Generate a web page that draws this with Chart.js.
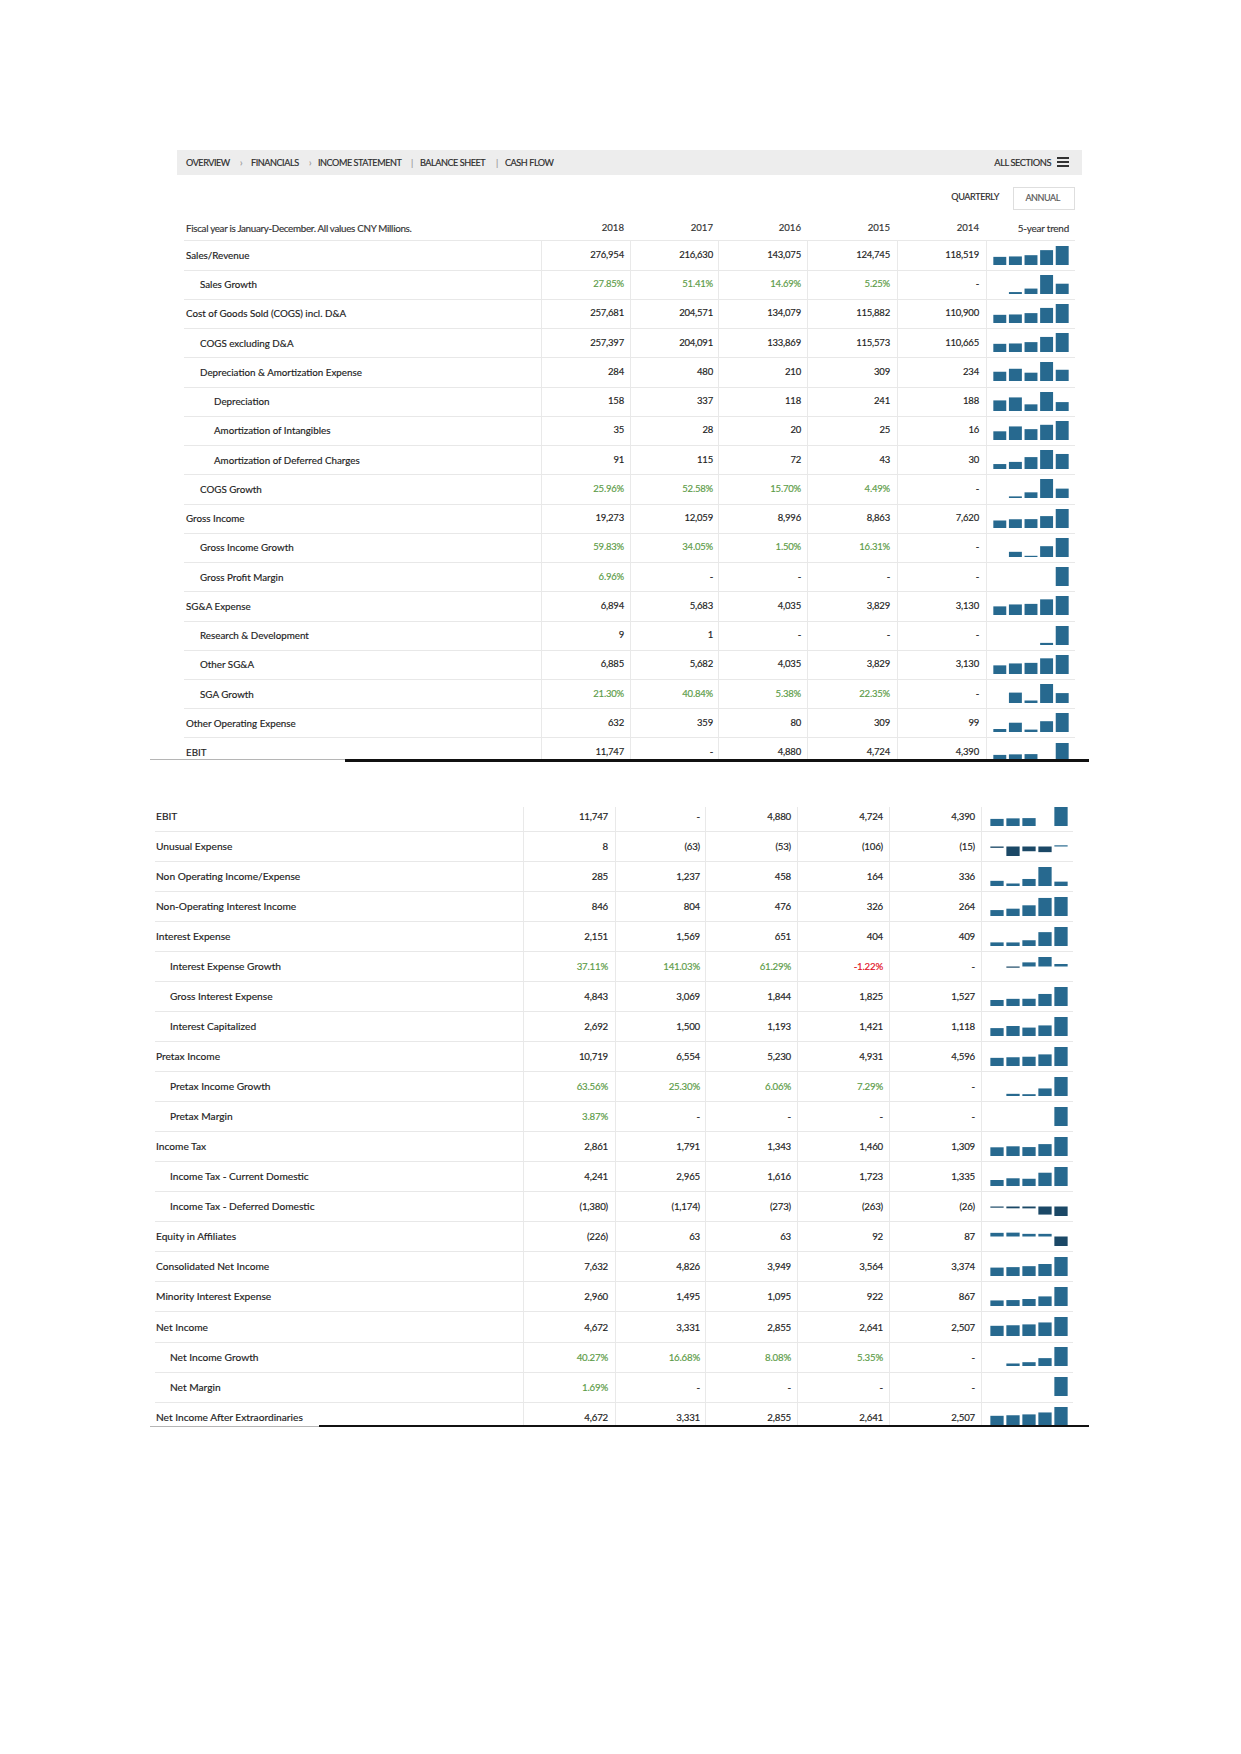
<!DOCTYPE html>
<html>
<head>
    <title>Income Statement</title>
    <script src="https://cdn.jsdelivr.net/npm/chart.js"></script>
    <style>
        body {
            margin: 0;
            width: 1241px;
            height: 1754px;
            background: #fff;
            position: relative;
            font-family: Lato, "Open Sans", sans-serif;
            color: #222;
        }
        .abs { position: absolute; white-space: nowrap; -webkit-text-stroke: 0.15px currentColor; }
        #topPane { position: absolute; left: 0; top: 0; width: 1241px; height: 760px; overflow: hidden; }
        #bottomPane { position: absolute; left: 0; top: 780px; width: 1241px; height: 660px; }
    </style>
</head>
<body>
    <div id="topPane"></div>
    <div id="bottomPane"></div>

    <script>
        // columns, newest first (the trend bars read oldest -> newest)
        const years = ['2018', '2017', '2016', '2015', '2014'];

        const topLabels = ['Sales/Revenue', 'Sales Growth', 'Cost of Goods Sold (COGS) incl. D&A', 'COGS excluding D&A',
            'Depreciation & Amortization Expense', 'Depreciation', 'Amortization of Intangibles',
            'Amortization of Deferred Charges', 'COGS Growth', 'Gross Income', 'Gross Income Growth',
            'Gross Profit Margin', 'SG&A Expense', 'Research & Development', 'Other SG&A', 'SGA Growth',
            'Other Operating Expense', 'EBIT'];
        const topLevels = [0, 1, 0, 1, 1, 2, 2, 2, 1, 0, 1, 1, 0, 1, 1, 1, 0, 0];
        const topPct = [0, 1, 0, 0, 0, 0, 0, 0, 1, 0, 1, 1, 0, 0, 0, 1, 0, 0];
        const topValues = [
            [276954, 216630, 143075, 124745, 118519],
            [27.85, 51.41, 14.69, 5.25, null],
            [257681, 204571, 134079, 115882, 110900],
            [257397, 204091, 133869, 115573, 110665],
            [284, 480, 210, 309, 234],
            [158, 337, 118, 241, 188],
            [35, 28, 20, 25, 16],
            [91, 115, 72, 43, 30],
            [25.96, 52.58, 15.70, 4.49, null],
            [19273, 12059, 8996, 8863, 7620],
            [59.83, 34.05, 1.50, 16.31, null],
            [6.96, null, null, null, null],
            [6894, 5683, 4035, 3829, 3130],
            [9, 1, null, null, null],
            [6885, 5682, 4035, 3829, 3130],
            [21.30, 40.84, 5.38, 22.35, null],
            [632, 359, 80, 309, 99],
            [11747, null, 4880, 4724, 4390]
        ];

        const bottomLabels = ['EBIT', 'Unusual Expense', 'Non Operating Income/Expense', 'Non-Operating Interest Income',
            'Interest Expense', 'Interest Expense Growth', 'Gross Interest Expense', 'Interest Capitalized',
            'Pretax Income', 'Pretax Income Growth', 'Pretax Margin', 'Income Tax', 'Income Tax - Current Domestic',
            'Income Tax - Deferred Domestic', 'Equity in Affiliates', 'Consolidated Net Income',
            'Minority Interest Expense', 'Net Income', 'Net Income Growth', 'Net Margin',
            'Net Income After Extraordinaries'];
        const bottomLevels = [0, 0, 0, 0, 0, 1, 1, 1, 0, 1, 1, 0, 1, 1, 0, 0, 0, 0, 1, 1, 0];
        const bottomPct = [0, 0, 0, 0, 0, 1, 0, 0, 0, 1, 1, 0, 0, 0, 0, 0, 0, 0, 1, 1, 0];
        const bottomValues = [
            [11747, null, 4880, 4724, 4390],
            [8, -63, -53, -106, -15],
            [285, 1237, 458, 164, 336],
            [846, 804, 476, 326, 264],
            [2151, 1569, 651, 404, 409],
            [37.11, 141.03, 61.29, -1.22, null],
            [4843, 3069, 1844, 1825, 1527],
            [2692, 1500, 1193, 1421, 1118],
            [10719, 6554, 5230, 4931, 4596],
            [63.56, 25.30, 6.06, 7.29, null],
            [3.87, null, null, null, null],
            [2861, 1791, 1343, 1460, 1309],
            [4241, 2965, 1616, 1723, 1335],
            [-1380, -1174, -273, -263, -26],
            [-226, 63, 63, 92, 87],
            [7632, 4826, 3949, 3564, 3374],
            [2960, 1495, 1095, 922, 867],
            [4672, 3331, 2855, 2641, 2507],
            [40.27, 16.68, 8.08, 5.35, null],
            [1.69, null, null, null, null],
            [4672, 3331, 2855, 2641, 2507]
        ];

        const navItems = ['OVERVIEW', '›', 'FINANCIALS', '›', 'INCOME STATEMENT', '|', 'BALANCE SHEET', '|', 'CASH FLOW'];

        const barBlue = '#27698f';
        const barDark = '#1b4866';
        const green = '#5b9b47';
        const red = '#e3101f';

        function addText(parent, str, x, y, o) {
            o = o || {};
            const d = document.createElement('div');
            d.className = 'abs';
            d.textContent = str;
            d.style.top = (y - 7) + 'px';
            d.style.height = '14px';
            d.style.lineHeight = '14px';
            if (o.right) {
                d.style.left = (x - 300) + 'px';
                d.style.width = '300px';
                d.style.textAlign = 'right';
            } else {
                d.style.left = x + 'px';
            }
            d.style.fontSize = (o.size || 9.5) + 'px';
            if (o.color) d.style.color = o.color;
            if (o.ls) d.style.letterSpacing = o.ls + 'px';
            parent.appendChild(d);
            return d;
        }

        function addBox(parent, x, y, w, h, color) {
            const d = document.createElement('div');
            d.className = 'abs';
            d.style.left = x + 'px';
            d.style.top = y + 'px';
            d.style.width = w + 'px';
            d.style.height = h + 'px';
            d.style.background = color;
            parent.appendChild(d);
            return d;
        }

        function fmt(v, pct) {
            if (v === null) return '-';
            if (pct) return v.toFixed(2) + '%';
            if (v < 0) return '(' + Math.abs(v).toLocaleString('en-US') + ')';
            return v.toLocaleString('en-US');
        }

        function sparkline(parent, vals, x, y, w, h) {
            const c = document.createElement('canvas');
            c.width = w;
            c.height = h;
            c.style.position = 'absolute';
            c.style.left = x + 'px';
            c.style.top = y + 'px';
            parent.appendChild(c);

            const data = vals.slice().reverse();
            const nums = data.filter(v => v !== null);
            const m = Math.max(...nums.map(Math.abs));
            const hasNeg = nums.some(v => v < 0);

            new Chart(c, {
                type: 'bar',
                data: {
                    labels: years.slice().reverse(),
                    datasets: [{
                        data: data,
                        backgroundColor: ctx => ctx.raw < 0 ? barDark : barBlue,
                        barPercentage: 0.83,
                        categoryPercentage: 1,
                        minBarLength: 1.2
                    }]
                },
                options: {
                    responsive: false,
                    animation: false,
                    events: [],
                    layout: { padding: 0 },
                    plugins: { legend: { display: false }, tooltip: { enabled: false } },
                    scales: {
                        x: { display: false },
                        y: { display: false, min: hasNeg ? -m : 0, max: m }
                    }
                }
            });
        }

        function buildSection(parent, labels, levels, pct, values, g) {
            // vertical column rules
            g.colLines.forEach(x => addBox(parent, x, g.vTop, 1, g.vBottom - g.vTop, '#e9e9e9'));

            labels.forEach((label, i) => {
                const cy = g.firstY + i * g.step;
                addText(parent, label, g.levelX[levels[i]], cy, { size: g.labelSize, color: '#1c1c1c' });
                values[i].forEach((v, j) => {
                    let color = '#222';
                    if (pct[i] && v !== null) color = v < 0 ? red : green;
                    addText(parent, fmt(v, pct[i]), g.valueRight[j], cy, { right: true, size: g.valueSize, color: color, ls: -0.2 });
                });
                sparkline(parent, values[i], g.trendX, Math.round(cy - 9.5), g.trendW, 19);
                if (i < labels.length - 1) {
                    addBox(parent, g.sepLeft, Math.round(cy + g.step / 2), g.sepRight - g.sepLeft, 1, '#e8e8e8');
                }
            });
        }

        // ---- top half ----
        const topPane = document.getElementById('topPane');
        addBox(topPane, 177, 150, 905, 25, '#ededed');
        const navX = [186, 240, 251, 309, 318, 411, 420, 496, 505];
        navItems.forEach((t, i) => {
            const sep = t === '›' || t === '|';
            addText(topPane, t, navX[i], 162.5, { size: 9.1, ls: -0.45, color: sep ? '#999' : '#2a2a2a' });
        });
        addText(topPane, 'ALL SECTIONS', 1051, 162.5, { right: true, size: 9.3, ls: -0.45, color: '#2a2a2a' });
        addBox(topPane, 1057, 157, 12, 2, '#333');
        addBox(topPane, 1057, 161, 12, 2, '#333');
        addBox(topPane, 1057, 165, 12, 2, '#333');

        addText(topPane, 'QUARTERLY', 999, 197, { right: true, size: 9.1, ls: -0.4, color: '#2a2a2a' });
        const annual = addBox(topPane, 1013, 187, 60, 21, '#fff');
        annual.style.border = '1px solid #dedede';
        addText(topPane, 'ANNUAL', 1060, 198, { right: true, size: 9, ls: -0.4, color: '#555' });

        addText(topPane, 'Fiscal year is January-December. All values CNY Millions.', 186, 228, { size: 9.8, ls: -0.3, color: '#333' });
        const topValueRight = [624, 713, 801, 890, 979];
        years.forEach((y, j) => addText(topPane, y, topValueRight[j], 228, { right: true, size: 9.6, color: '#333' }));
        addText(topPane, '5-year trend', 1069, 228, { right: true, size: 9.9, ls: -0.2, color: '#333' });
        addBox(topPane, 184, 240, 891, 1, '#e8e8e8');

        buildSection(topPane, topLabels, topLevels, topPct, topValues, {
            firstY: 255, step: 29.24, levelX: [186, 200, 214],
            labelSize: 9.8, valueSize: 9.5,
            valueRight: topValueRight,
            colLines: [541, 630, 718, 807, 897, 986],
            vTop: 240, vBottom: 760,
            sepLeft: 184, sepRight: 1075,
            trendX: 992, trendW: 78
        });

        // cut line of the first screenshot
        addBox(document.body, 150, 759, 195, 1, '#b5b5b5');
        addBox(document.body, 345, 759, 744, 3, '#111');

        // ---- bottom half ----
        const bottomPane = document.getElementById('bottomPane');
        buildSection(bottomPane, bottomLabels, bottomLevels, bottomPct, bottomValues, {
            firstY: 36, step: 30.03, levelX: [156, 170],
            labelSize: 10.2, valueSize: 9.7,
            valueRight: [608, 700, 791, 883, 975],
            colLines: [523, 615, 705, 797, 889, 981],
            vTop: 27, vBottom: 646,
            sepLeft: 155, sepRight: 1073,
            trendX: 989, trendW: 80
        });
        addBox(document.body, 150, 1426, 169, 1, '#b5b5b5');
        addBox(document.body, 319, 1425, 770, 2, '#111');
    </script>
</body>
</html>
